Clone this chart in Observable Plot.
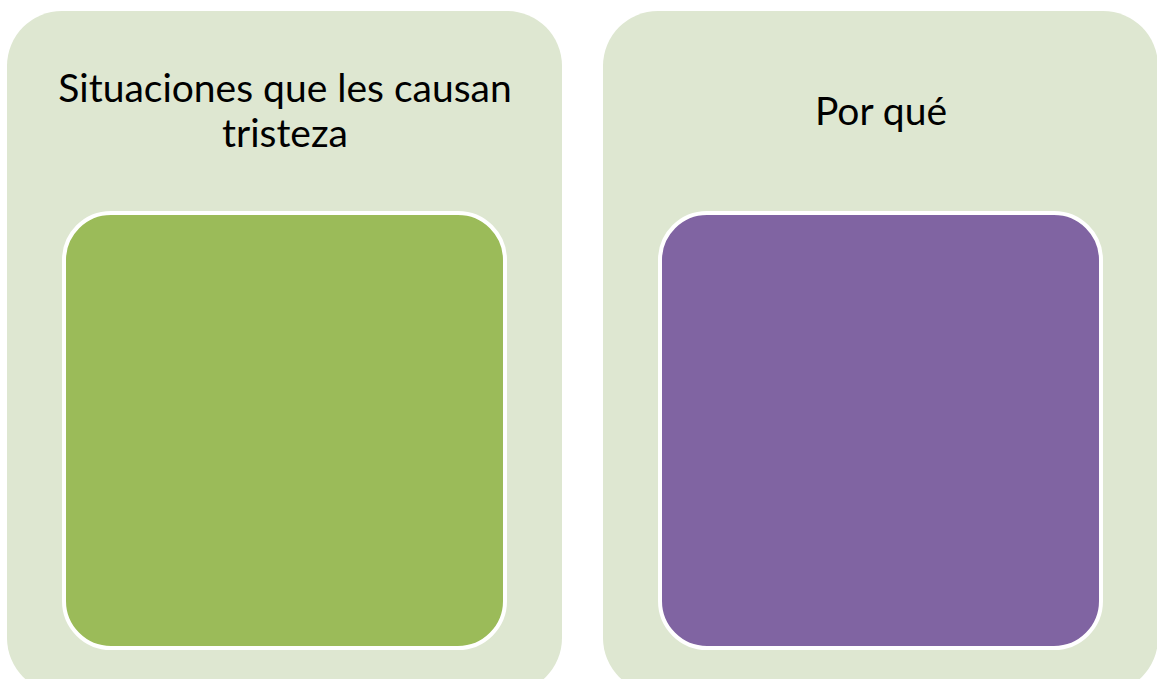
<!DOCTYPE html>
<html>
<head>
<meta charset="utf-8">
<script src="https://cdn.jsdelivr.net/npm/d3@7"></script>
<script src="https://cdn.jsdelivr.net/npm/@observablehq/plot@0.6"></script>
<style>
  html, body { margin: 0; padding: 0; background: #ffffff; }
  svg { display: block; }
</style>
</head>
<body>
<div id="chart"></div>
<script>
// Panels of the diagram
const panels = ["Situaciones que les causan tristeza", "Por qué"];
const panelLabels = ["Situaciones que les causan\ntristeza", "Por qué"];
const innerColors = ["#9BBB59", "#8064A2"];

const rows = panels.map((p, i) => ({panel: p, label: panelLabels[i], color: innerColors[i]}));

const W = 1157, H = 679;

const chart = Plot.plot({
  width: W,
  height: H,
  margin: 0,
  style: {background: "#ffffff", overflow: "hidden"},
  x: {type: "band", domain: panels, range: [7, 1158], paddingInner: 0.0688, paddingOuter: 0, axis: null},
  color: {type: "identity"},
  marks: [
    // outer light cards
    Plot.cell(rows, {
      x: "panel",
      fill: "#DEE7D1",
      rx: 55,
      insetTop: 11,
      insetBottom: -14
    }),
    // inner coloured boxes with white border
    Plot.cell(rows, {
      x: "panel",
      fill: "color",
      stroke: "#ffffff",
      strokeWidth: 4,
      rx: 47,
      insetLeft: 57,
      insetRight: 57,
      insetTop: 213,
      insetBottom: 31
    }),
    // titles
    Plot.text(rows, {
      x: "panel",
      text: "label",
      frameAnchor: "top",
      lineAnchor: "middle",
      dy: 110,
      lineHeight: 1.155,
      fontSize: 39,
      fontFamily: "'Comic Sans MS', Lato, sans-serif",
      fill: "#000000"
    })
  ]
});

document.getElementById("chart").appendChild(chart);
</script>
</body>
</html>
